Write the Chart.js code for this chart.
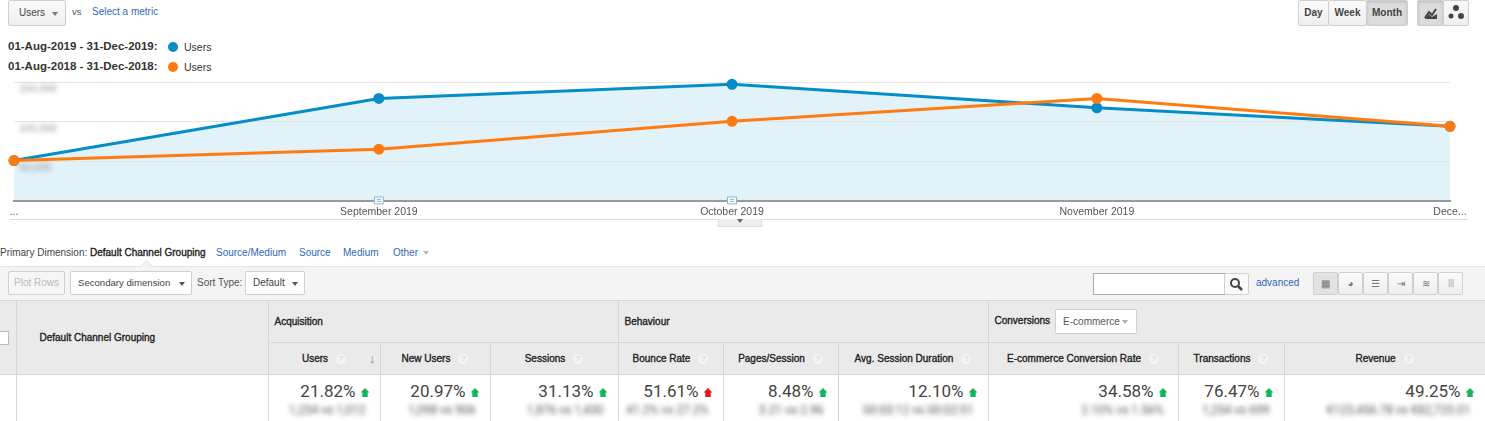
<!DOCTYPE html>
<html>
<head>
<meta charset="utf-8">
<script src="https://cdn.jsdelivr.net/npm/chart.js@4.4.1/dist/chart.umd.min.js"></script>
<style>
  body { margin: 0; width: 1485px; height: 421px; overflow: hidden; background: #fff;
         font-family: Arial, "Liberation Sans", sans-serif; font-size: 10px; color: #333; position: relative; }
  .abs { position: absolute; white-space: nowrap; }
  .btn { position: absolute; box-sizing: border-box; border: 1px solid #cfcfcf; border-radius: 2px; white-space: nowrap;
         background: linear-gradient(#fafafa, #eeeeee); color: #444; line-height: 23px; }
  .link { color: #3267b8; }
  .caret { display: inline-block; width: 0; height: 0; border-left: 3px solid transparent;
           border-right: 3px solid transparent; border-top: 4px solid #777; vertical-align: middle; }
  .dot { position: absolute; width: 10px; height: 10px; border-radius: 50%; }
  .semi { -webkit-text-stroke: 0.35px currentColor; }
  #chartWrap { position: absolute; left: 0; top: 70px; width: 1485px; height: 152px; }
  table { position: absolute; left: 0; top: 300px; border-collapse: collapse; table-layout: fixed; width: 1485px; }
  td { border: 1px solid #d6d6d6; padding: 0; font-size: 10px; color: #222; white-space: nowrap; }
  .hd { background: #eaeaea; -webkit-text-stroke: 0.35px #222; }
  .q { display: inline-block; width: 10px; height: 10px; border-radius: 50%; background: #f5f5f5; -webkit-text-stroke: 0;
       color: #ccc; font-size: 8px; line-height: 10px; text-align: center; margin-left: 8px; vertical-align: middle; }
  .val { font-family: Roboto, sans-serif; font-size: 17px; color: #444; text-align: right; -webkit-text-stroke: 0; }
  .arr { display: inline-block; width: 9px; height: 9px; margin-left: 5px; background: #16b35c;
         clip-path: polygon(50% 0, 100% 50%, 80% 50%, 80% 100%, 20% 100%, 20% 50%, 0 50%); }
  .arr.bad { background: #e8141c; }
  .blur { font-family: Roboto, sans-serif; font-size: 12px; color: #555; filter: blur(2.8px); text-align: right; }
</style>
</head>
<body>

<div class="btn" style="left:8px; top:0; width:58px; height:26px;"><span class="abs" style="left:10px; top:0;">Users</span><span class="caret abs" style="left:43px; top:11px;"></span></div>
<div class="abs" style="left:72px; top:6px; font-size:9.5px; color:#555;">vs</div>
<div class="abs link" style="left:92px; top:6px;">Select a metric</div>

<div class="btn" style="left:1298px; top:0; width:31px; height:26px; text-align:center; font-weight:bold;">Day</div>
<div class="btn" style="left:1328px; top:0; width:39px; height:26px; text-align:center; font-weight:bold;">Week</div>
<div class="btn" style="left:1366px; top:0; width:42px; height:26px; text-align:center; font-weight:bold; background:#dcdcdc; box-shadow: inset 0 1px 3px #bbb;">Month</div>
<div class="btn" style="left:1417px; top:0; width:27px; height:26px; background:#dcdcdc; box-shadow: inset 0 1px 3px #bbb;">
  <svg width="25" height="24" style="position:absolute;left:0;top:0"><path d="M7 17 L11 11 L14 14 L18 8" stroke="#444" stroke-width="2" fill="none"/><path d="M7 18 L19 18 L19 13 L14 16 L11 13 Z" fill="#444"/></svg>
</div>
<div class="btn" style="left:1443px; top:0; width:26px; height:26px;">
  <svg width="24" height="24" style="position:absolute;left:0;top:0"><circle cx="12" cy="7" r="3" fill="#444"/><circle cx="7" cy="15" r="2.5" fill="#444"/><circle cx="17" cy="15" r="3" fill="#444"/></svg>
</div>

<div class="abs" style="left:8px; top:40px; font-weight:bold; font-size:11.5px; color:#333;">01-Aug-2019 - 31-Dec-2019:</div>
<div class="dot" style="left:168px; top:42px; background:#058dc7;"></div>
<div class="abs" style="left:184px; top:41px; font-size:10.5px;">Users</div>
<div class="abs" style="left:8px; top:60px; font-weight:bold; font-size:11.5px; color:#333;">01-Aug-2018 - 31-Dec-2018:</div>
<div class="dot" style="left:168px; top:62px; background:#ff7b0f;"></div>
<div class="abs" style="left:184px; top:61px; font-size:10.5px;">Users</div>

<div id="chartWrap"><canvas id="myChart"></canvas></div>

<div class="abs" style="left:10px; top:219px; width:1458px; height:1px; background:#dcdcdc;"></div>
<div class="abs" style="left:718px; top:219px; width:42px; height:7px; background:#eeeeee; border:1px solid #ddd; border-top:none; text-align:center; line-height:4px;"><span class="caret" style="border-top-color:#666"></span></div>

<div class="abs" style="left:0; top:247px; color:#444;">Primary Dimension:</div>
<div class="abs semi" style="left:90px; top:247px; color:#222;">Default Channel Grouping</div>
<div class="abs link" style="left:216px; top:247px;">Source/Medium</div>
<div class="abs link" style="left:299px; top:247px;">Source</div>
<div class="abs link" style="left:343px; top:247px;">Medium</div>
<div class="abs link" style="left:393px; top:247px;">Other <span class="caret" style="border-top-color:#bbb; margin-left:2px"></span></div>

<div class="abs" style="left:0; top:266px; width:1485px; height:34px; background:#f4f4f4; border-top:1px solid #e4e4e4;"></div>
<div class="abs" style="left:142px; top:262px; width:8px; height:8px; background:#f4f4f4; border-left:1px solid #e4e4e4; border-top:1px solid #e4e4e4; transform:rotate(45deg);"></div>
<div class="btn" style="left:8px; top:271px; width:57px; height:24px; text-align:center; color:#bbb; line-height:22px; background:#f6f6f6;">Plot Rows</div>
<div class="btn" style="left:70px; top:271px; width:122px; height:24px; line-height:22px; background:#fff;"><span class="abs" style="left:7px; top:0; font-size:9.6px;">Secondary dimension</span><span class="caret abs" style="left:108px; top:10px; border-top-color:#555"></span></div>
<div class="abs" style="left:197px; top:277px; color:#555;">Sort Type:</div>
<div class="btn" style="left:245px; top:271px; width:60px; height:24px; line-height:22px; background:#fff;"><span class="abs" style="left:7px; top:0;">Default</span><span class="caret abs" style="left:46px; top:10px; border-top-color:#555"></span></div>

<div class="abs" style="left:1093px; top:273px; width:131px; height:20px; border:1px solid #aaa; background:#fff;"></div>
<div class="btn" style="left:1224px; top:273px; width:25px; height:22px; background:#fafafa;">
  <svg width="23" height="20" style="position:absolute;left:0;top:0"><circle cx="10" cy="9" r="4" stroke="#444" stroke-width="2" fill="none"/><path d="M13 12 L17 16" stroke="#444" stroke-width="2.5"/></svg>
</div>
<div class="abs link" style="left:1256px; top:277px;">advanced</div>
<div id="views"></div>

<table id="tbl">
  <colgroup id="cols"></colgroup>
  <tr style="height:42px" id="row1">
    <td class="hd" rowspan="2" style="border-left:none"><div style="width:8px;height:12px;border:1px solid #bbb;border-left:none;background:#fff;"></div></td>
    <td class="hd" rowspan="2" style="padding-left:23px;">Default Channel Grouping</td>
    <td class="hd" colspan="3" style="padding-left:6px;">Acquisition</td>
    <td class="hd" colspan="3" style="padding-left:6px;">Behaviour</td>
    <td class="hd" colspan="3" style="padding-left:6px;">Conversions<span style="display:inline-block; margin-left:5px; width:82px; height:25px; line-height:23px; border:1px solid #d0d0d0; border-radius:2px; background:#fff; -webkit-text-stroke:0; color:#555; padding-left:7px; box-sizing:border-box; vertical-align:middle; position:relative;">E-commerce<span class="caret" style="position:absolute; left:66px; top:10px; border-top-color:#aaa"></span></span></td>
  </tr>
  <tr style="height:32px" id="row2"></tr>
  <tr style="height:47px" id="row3">
    <td style="border-left:none"></td><td></td>
  </tr>
</table>

<script>
'use strict';
// chart data
// x positions are days since 01-Aug (the chart spaces months by their length)
let monthDays = [0, 31, 61, 92, 122];
let monthLabels = ['...', 'September 2019', 'October 2019', 'November 2019', 'Dece...'];
let users2019 = [51300, 129400, 147100, 117500, 94300];
let users2018 = [51300, 65600, 100600, 129400, 94300];
let yTickValues = [50000, 100000, 150000];

// table data
let colWidths = [16, 252, 112, 110, 128, 105, 115, 150, 190, 106, 201];
let metricNames = ['Users', 'New Users', 'Sessions', 'Bounce Rate', 'Pages/Session', 'Avg. Session Duration',
  'E-commerce Conversion Rate', 'Transactions', 'Revenue'];
let metricChanges = ['21.82%', '20.97%', '31.13%', '51.61%', '8.48%', '12.10%', '34.58%', '76.47%', '49.25%'];
let metricBad = [false, false, false, true, false, false, false, false, false];
let blurText = ['1,234 vs 1,012', '1,098 vs 906', '1,876 vs 1,430', '41.2% vs 27.2%', '3.21 vs 2.96',
  '00:03:12 vs 00:02:51', '2.10% vs 1.56%', '1,234 vs 699', '€123,456.78 vs €82,725.01'];

let getCols = document.getElementById('cols');
for (let i = 0; i < colWidths.length; i++) {
  let c = document.createElement('col');
  c.style.width = colWidths[i] + 'px';
  getCols.appendChild(c);
}
let row2 = document.getElementById('row2');
let row3 = document.getElementById('row3');
for (let i = 0; i < metricNames.length; i++) {
  let td = document.createElement('td');
  td.className = 'hd';
  td.style.textAlign = 'center';
  td.style.position = 'relative';
  td.innerHTML = metricNames[i] + '<span class="q">?</span>';
  if (i === 0) {
    td.innerHTML += '<span style="position:absolute; right:4px; top:8px; color:#888; font-size:13px; -webkit-text-stroke:0;">&#8595;</span>';
  }
  row2.appendChild(td);

  td = document.createElement('td');
  td.style.verticalAlign = 'top';
  td.innerHTML = '<div class="val" style="padding:6px 10px 0 0;">' + metricChanges[i] +
    '<span class="arr' + (metricBad[i] ? ' bad' : '') + '"></span></div>' +
    '<div class="blur" style="padding:2px 14px 0 0;">' + blurText[i] + '</div>';
  row3.appendChild(td);
}

// view toggles on the right of the toolbar
let views = document.getElementById('views');
let viewIcons = ['▦', '◕', '☰', '⇥', '≋', '⦙⦙⦙'];
for (let i = 0; i < viewIcons.length; i++) {
  let b = document.createElement('div');
  b.className = 'btn';
  b.style.left = (1313 + i * 25) + 'px';
  b.style.top = '272px';
  b.style.width = '25px';
  b.style.height = '23px';
  b.style.textAlign = 'center';
  b.style.fontSize = '10px';
  b.style.lineHeight = '21px';
  b.style.color = '#777';
  if (i === 0) { b.style.background = '#e2e2e2'; }
  b.textContent = viewIcons[i];
  views.appendChild(b);
}

function toPoints(values) {
  let pts = [];
  for (let i = 0; i < values.length; i++) {
    pts.push({ x: monthDays[i], y: values[i] });
  }
  return pts;
}

// blur the y tick labels like the reference, and draw the little note markers
let gaPlugin = {
  id: 'gaPlugin',
  beforeDraw(chart) {
    let s = chart.scales.y;
    if (s && !s._blurred) {
      let orig = s.drawLabels.bind(s);
      s.drawLabels = function (area) {
        chart.ctx.save();
        chart.ctx.filter = 'blur(2px)';
        orig(area);
        chart.ctx.restore();
      };
      s._blurred = true;
    }
  },
  afterDraw(chart) {
    let ctx = chart.ctx;
    let x = chart.scales.x;
    let bottom = chart.chartArea.bottom;
    [monthDays[1], monthDays[2]].forEach(function (d) {
      let px = x.getPixelForValue(d);
      ctx.save();
      ctx.fillStyle = '#f4fbff';
      ctx.strokeStyle = '#8fb8cc';
      ctx.lineWidth = 1;
      ctx.beginPath();
      ctx.rect(px - 4.5, bottom - 4.5, 9, 7);
      ctx.fill();
      ctx.stroke();
      ctx.beginPath();
      ctx.moveTo(px - 2, bottom - 2); ctx.lineTo(px + 2, bottom - 2);
      ctx.moveTo(px - 2, bottom); ctx.lineTo(px + 2, bottom);
      ctx.stroke();
      ctx.restore();
    });
  }
};

let ctx = document.getElementById('myChart').getContext('2d');
let myChart = new Chart(ctx, {
  type: 'line',
  data: {
    datasets: [{
      label: 'Users (2019)',
      data: toPoints(users2019),
      borderColor: '#058dc7',
      backgroundColor: '#e1f2f9',
      fill: 'origin',
      borderWidth: 3,
      pointRadius: 4,
      pointBackgroundColor: '#058dc7',
      pointBorderColor: '#058dc7',
      tension: 0,
      clip: false,
      order: 2
    }, {
      label: 'Users (2018)',
      data: toPoints(users2018),
      borderColor: '#ff7b0f',
      backgroundColor: '#ff7b0f',
      fill: false,
      borderWidth: 3,
      pointRadius: 4,
      pointBackgroundColor: '#ff7b0f',
      pointBorderColor: '#ff7b0f',
      tension: 0,
      clip: false,
      order: 1
    }]
  },
  options: {
    responsive: true,
    maintainAspectRatio: false,
    animation: false,
    layout: { padding: { left: 14, right: 35, top: 12, bottom: 0 } },
    plugins: { legend: { display: false }, tooltip: { enabled: false }, filler: { drawTime: 'beforeDraw' } },
    scales: {
      x: {
        type: 'linear',
        min: monthDays[0],
        max: monthDays[monthDays.length - 1],
        afterBuildTicks(s) { s.ticks = monthDays.map(v => ({ value: v })); },
        grid: { display: false, drawTicks: false },
        border: { display: true, color: '#9a9a9a', width: 2 },
        ticks: {
          color: '#555', font: { family: 'Arial', size: 10.5 }, padding: 4, autoSkip: false, maxRotation: 0,
          callback: v => monthLabels[monthDays.indexOf(v)]
        }
      },
      y: {
        min: 0,
        max: 150000,
        afterFit(s) { s.width = 0; },
        afterBuildTicks(s) { s.ticks = [0].concat(yTickValues).map(v => ({ value: v })); },
        grid: { color: '#e6e6e6', drawTicks: false },
        border: { display: false },
        ticks: {
          mirror: true,
          padding: 5,
          labelOffset: 7,
          color: '#999',
          font: { family: 'Arial', size: 10.5 },
          callback: v => (v === 0 ? '' : v.toLocaleString('en-US'))
        }
      }
    }
  },
  plugins: [gaPlugin]
});
</script>
</body>
</html>
